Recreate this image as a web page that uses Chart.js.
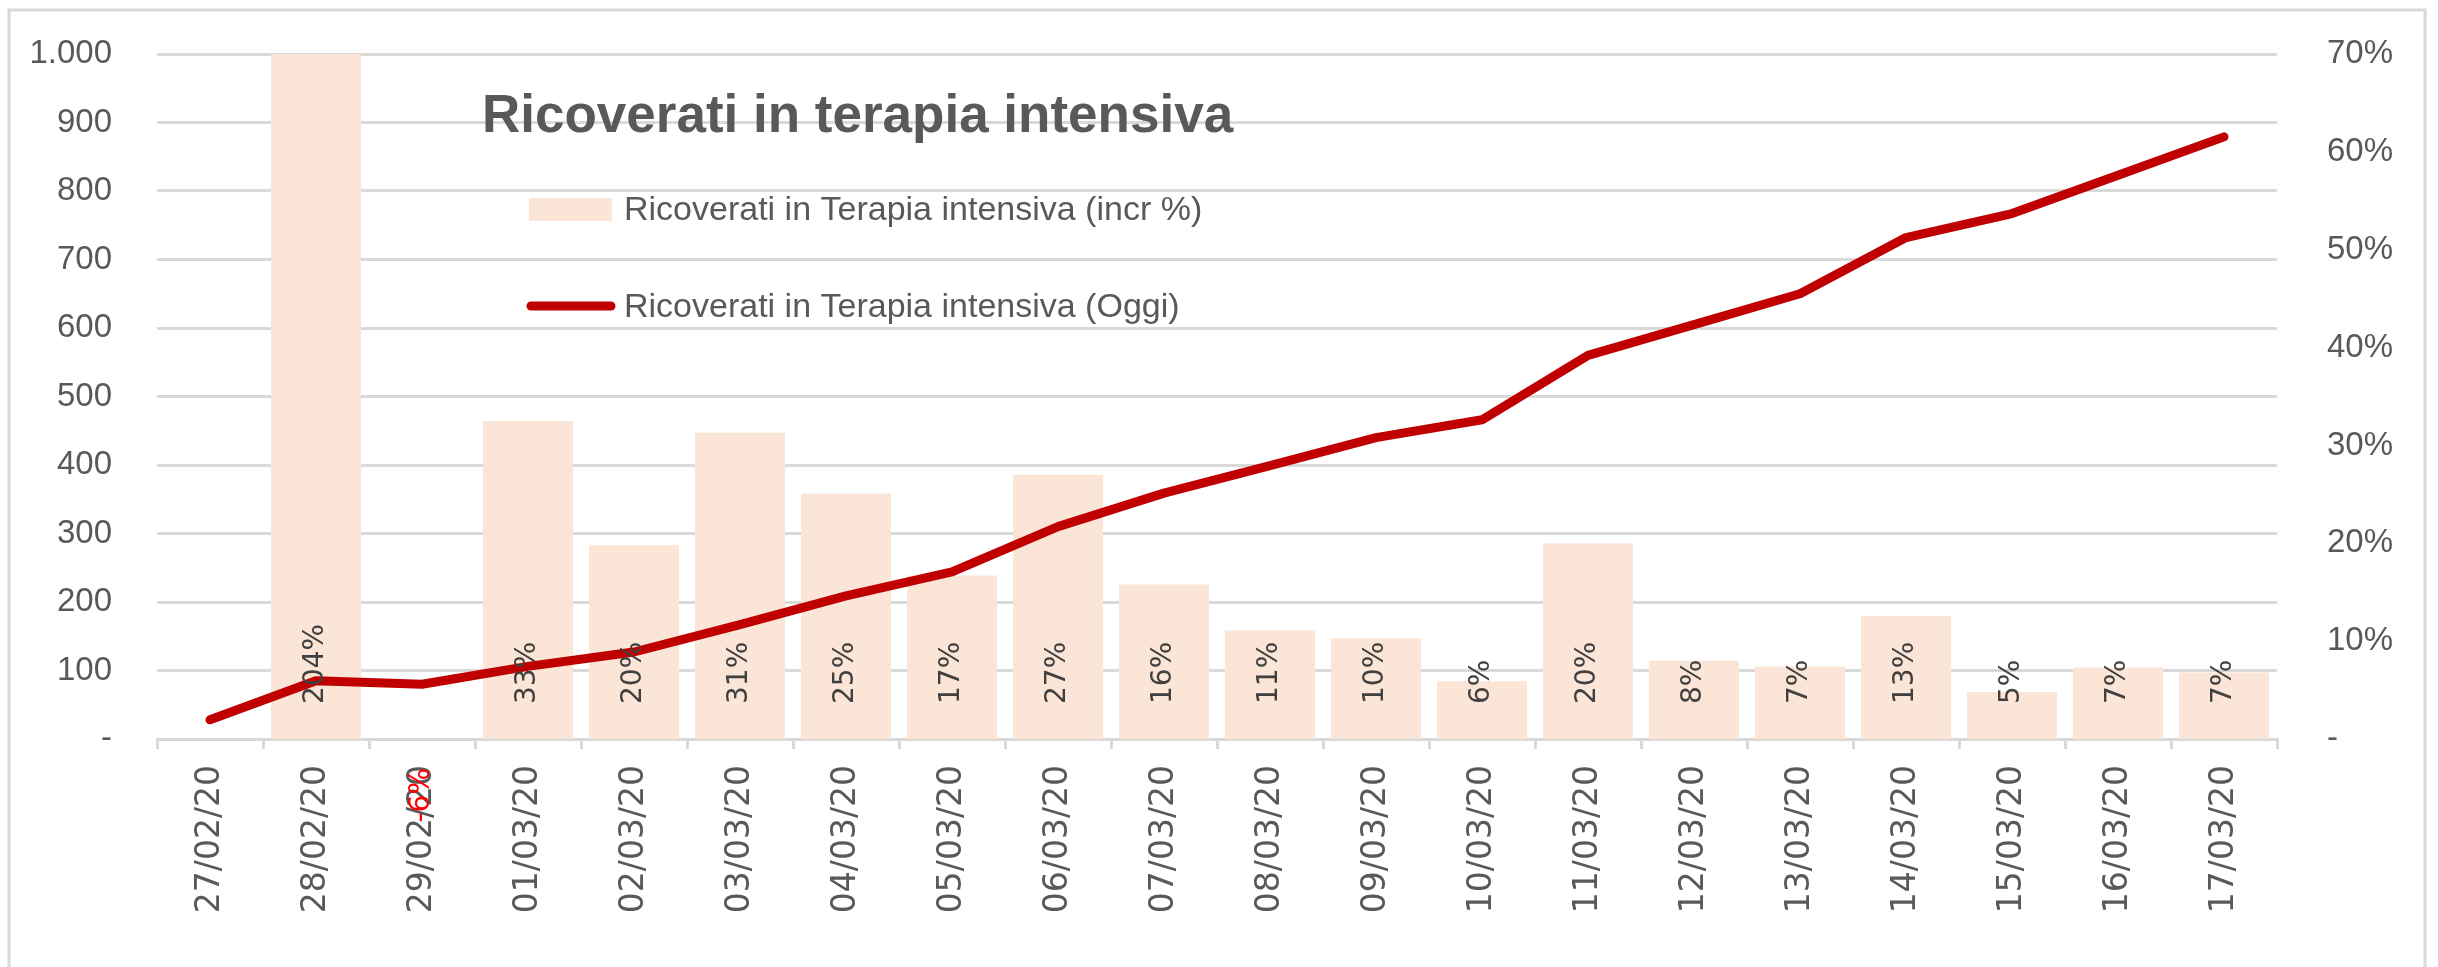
<!DOCTYPE html>
<html>
<head>
<meta charset="utf-8">
<title>Ricoverati in terapia intensiva</title>
<script src="https://cdn.jsdelivr.net/npm/chart.js@4.4.1/dist/chart.umd.min.js"></script>
<style>
  html, body { margin: 0; padding: 0; background: #fff; }
  #wrap { width: 2438px; height: 967px; position: relative; }
</style>
</head>
<body>
<div id="wrap"><canvas id="grafico" width="2438" height="967"></canvas></div>
<script>
const date = ['27/02/20', '28/02/20', '29/02/20', '01/03/20', '02/03/20', '03/03/20', '04/03/20',
  '05/03/20', '06/03/20', '07/03/20', '08/03/20', '09/03/20', '10/03/20', '11/03/20', '12/03/20',
  '13/03/20', '14/03/20', '15/03/20', '16/03/20', '17/03/20'];

// ricoverati oggi (asse sinistro)
const ricoverati = [28, 85, 80, 106, 127, 167, 209, 244, 310, 359, 399, 440, 466, 560, 605, 650, 732, 767, 823, 879];

// incremento % giornaliero (asse destro)
const incremento = [null, 2.04, -0.06, 0.325, 0.198, 0.313, 0.251, 0.167, 0.27, 0.158, 0.111, 0.103, 0.059,
  0.20, 0.08, 0.074, 0.126, 0.048, 0.073, 0.068];

const tickSx = ['-', '100', '200', '300', '400', '500', '600', '700', '800', '900', '1.000'];
const tickDx = ['-', '10%', '20%', '30%', '40%', '50%', '60%', '70%'];

const nomeBarre = 'Ricoverati in Terapia intensiva (incr %)';
const nomeLinea = 'Ricoverati in Terapia intensiva (Oggi)';
const titolo = 'Ricoverati in terapia intensiva';

const grigio = '#595959';
const griglia = '#d9d9d9';

document.addEventListener("DOMContentLoaded", () => {

  // cornice, titolo e legenda disegnati a mano
  const decorazioni = {
    id: 'decorazioni',
    beforeDraw(chart) {
      const ctx = chart.ctx;
      ctx.save();
      ctx.strokeStyle = griglia;
      ctx.lineWidth = 3;
      ctx.beginPath();
      ctx.moveTo(9, 967);
      ctx.lineTo(9, 10);
      ctx.lineTo(2425, 10);
      ctx.lineTo(2425, 967);
      ctx.stroke();
      ctx.restore();
    },
    afterDraw(chart) {
      const ctx = chart.ctx;
      const ds = chart.data.datasets;
      ctx.save();
      ctx.fillStyle = grigio;
      ctx.font = 'bold 53px "Liberation Sans"';
      ctx.textBaseline = 'alphabetic';
      ctx.textAlign = 'left';
      ctx.fillText(titolo, 482, 132);

      ctx.font = '34px "Liberation Sans"';
      ctx.textBaseline = 'middle';
      // barre
      ctx.fillStyle = ds[1].backgroundColor;
      ctx.fillRect(529, 198, 83, 23);
      ctx.fillStyle = grigio;
      ctx.fillText(ds[1].label, 624, 211);
      // linea
      ctx.strokeStyle = ds[0].borderColor;
      ctx.lineWidth = 9;
      ctx.lineCap = 'round';
      ctx.beginPath();
      ctx.moveTo(531, 306);
      ctx.lineTo(611, 306);
      ctx.stroke();
      ctx.fillText(ds[0].label, 624, 308);
      ctx.restore();
    }
  };

  // etichette percentuali ruotate dentro la base delle barre
  const etichette = {
    id: 'etichette',
    afterDatasetsDraw(chart) {
      const ctx = chart.ctx;
      const meta = chart.getDatasetMeta(1);
      const y0 = chart.scales.y1.getPixelForValue(0);
      ctx.save();
      ctx.font = '28px "DejaVu Sans"';
      ctx.textBaseline = 'middle';
      meta.data.forEach((bar, i) => {
        const v = incremento[i];
        if (v === null) return;
        const testo = Math.round(v * 100) + '%';
        ctx.save();
        ctx.translate(bar.x, v >= 0 ? y0 - 35 : y0 + 29);
        ctx.rotate(-Math.PI / 2);
        ctx.fillStyle = v >= 0 ? '#404040' : '#ff0000';
        ctx.textAlign = v >= 0 ? 'left' : 'right';
        ctx.fillText(testo, 0, 0);
        ctx.restore();
      });
      ctx.restore();
    }
  };

  const ctx = document.getElementById('grafico').getContext('2d');
  new Chart(ctx, {
    data: {
      labels: date,
      datasets: [{
        type: 'line',
        label: nomeLinea,
        data: ricoverati,
        yAxisID: 'y',
        borderColor: '#c00000',
        borderWidth: 9,
        borderCapStyle: 'round',
        borderJoinStyle: 'round',
        pointRadius: 0,
        tension: 0,
        order: 0
      }, {
        type: 'bar',
        label: nomeBarre,
        data: incremento,
        yAxisID: 'y1',
        backgroundColor: '#fbe5d6',
        barPercentage: 0.85,
        categoryPercentage: 1,
        order: 1
      }]
    },
    options: {
      responsive: false,
      animation: false,
      layout: { padding: { top: 54, left: 0, right: 0, bottom: 0 } },
      plugins: {
        legend: { display: false },
        title: { display: false },
        tooltip: { enabled: false }
      },
      scales: {
        x: {
          offset: true,
          grid: {
            offset: true,
            drawOnChartArea: false,
            drawTicks: true,
            tickLength: 10,
            color: griglia,
            lineWidth: 3
          },
          border: { display: true, color: griglia, width: 3 },
          ticks: {
            autoSkip: false,
            minRotation: 90,
            maxRotation: 90,
            padding: 16,
            color: grigio,
            font: { family: 'DejaVu Sans', size: 33 }
          },
          afterFit: (scale) => { scale.height = 228; }
        },
        y: {
          position: 'left',
          min: 0,
          max: 1000,
          grid: { color: griglia, lineWidth: 3, drawTicks: false },
          border: { display: false },
          ticks: {
            stepSize: 100,
            padding: 45,
            color: grigio,
            font: { family: 'Liberation Sans', size: 33 },
            callback: (v, i) => tickSx[i]
          },
          afterFit: (scale) => {
            scale.width = 157;
            scale.paddingTop = 20;
            scale.paddingBottom = 20;
          }
        },
        y1: {
          position: 'right',
          min: 0,
          max: 0.7,
          grid: { display: false, drawTicks: false },
          border: { display: false },
          ticks: {
            stepSize: 0.1,
            padding: 50,
            color: grigio,
            font: { family: 'Liberation Sans', size: 33 },
            callback: (v, i) => tickDx[i]
          },
          afterFit: (scale) => {
            scale.width = 161;
            scale.paddingTop = 20;
            scale.paddingBottom = 20;
          }
        }
      }
    },
    plugins: [decorazioni, etichette]
  });
});
</script>
</body>
</html>
